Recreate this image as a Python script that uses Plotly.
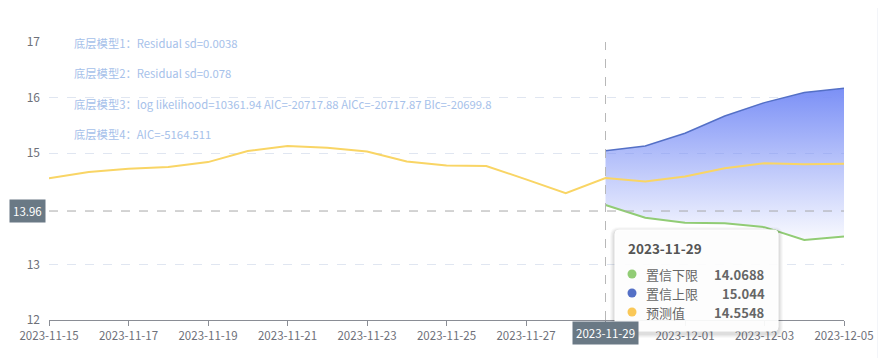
import plotly.graph_objects as go

# ---------------- data ----------------
dates = ["2023-11-15", "2023-11-16", "2023-11-17", "2023-11-18", "2023-11-19",
         "2023-11-20", "2023-11-21", "2023-11-22", "2023-11-23", "2023-11-24",
         "2023-11-25", "2023-11-26", "2023-11-27", "2023-11-28", "2023-11-29",
         "2023-11-30", "2023-12-01", "2023-12-02", "2023-12-03", "2023-12-04",
         "2023-12-05"]
forecast = [14.55, 14.66, 14.72, 14.75, 14.84, 15.04, 15.13, 15.10, 15.03, 14.85,
            14.78, 14.77, 14.53, 14.28, 14.5548, 14.49, 14.58, 14.73, 14.82, 14.80,
            14.81]
band_dates = ["2023-11-29", "2023-11-30", "2023-12-01", "2023-12-02", "2023-12-03",
              "2023-12-04", "2023-12-05"]
lower = [14.0688, 13.84, 13.75, 13.74, 13.67, 13.44, 13.50]
upper = [15.044, 15.13, 15.36, 15.67, 15.91, 16.09, 16.17]

tick_dates = ["2023-11-15", "2023-11-17", "2023-11-19", "2023-11-21", "2023-11-23",
              "2023-11-25", "2023-11-27", "2023-11-29", "2023-12-01", "2023-12-03",
              "2023-12-05"]
y_ticks = [12, 13, 15, 16, 17]
model_notes = [
    "底层模型1：Residual sd=0.0038",
    "底层模型2：Residual sd=0.078",
    "底层模型3：log likelihood=10361.94 AIC=-20717.88 AICc=-20717.87 BIc=-20699.8",
    "底层模型4：AIC=-5164.511",
]
pointer_date = "2023-11-29"
pointer_value = 13.96
tooltip_names = ["置信下限", "置信上限", "预测值"]
tooltip_values = ["14.0688", "15.044", "14.5548"]

GREEN = "#91cc75"
BLUE = "#5470c6"
YELLOW = "#fac858"
YELLOW_LINE = "#f9d565"
AXIS = "#6e7079"
FONT = "Noto Sans CJK SC, Noto Sans, sans-serif"

# page offset (browser body margin)
OX, OY = 8, 8
W, H = 878, 350
L, T = 41, 34
R = W - (844 - OX)
B = H - (320 - OY)
PW, PH = W - L - R, H - T - B


def px(x):
    """reference-screen x pixel -> paper coordinate"""
    return (x - OX - L) / PW


def py(y):
    """reference-screen y pixel -> paper coordinate"""
    return (H - B - (y - OY)) / PH


fig = go.Figure()

# band: lower then upper with gradient fill
fig.add_trace(go.Scatter(x=band_dates, y=lower, mode="lines",
                         line=dict(color=GREEN, width=0), hoverinfo="skip",
                         showlegend=False))
fig.add_trace(go.Scatter(x=band_dates, y=upper, mode="lines", fill="tonexty",
                         fillgradient=dict(type="vertical",
                                           colorscale=[[0, "rgba(122,143,246,0.0)"],
                                                       [1, "rgba(122,143,246,1)"]],
                                           start=13.3, stop=16.2),
                         line=dict(color=BLUE, width=0), hoverinfo="skip",
                         showlegend=False))
# lines
fig.add_trace(go.Scatter(x=band_dates, y=lower, mode="lines",
                         line=dict(color=GREEN, width=2), showlegend=False))
fig.add_trace(go.Scatter(x=band_dates, y=upper, mode="lines",
                         line=dict(color=BLUE, width=1.5), showlegend=False))
fig.add_trace(go.Scatter(x=dates, y=forecast, mode="lines",
                         line=dict(color=YELLOW_LINE, width=2), showlegend=False))

shapes = []
# white card on gray page
shapes.append(dict(type="rect", xref="paper", yref="paper", layer="below",
                   x0=px(0), x1=px(877), y0=py(360), y1=py(8),
                   fillcolor="white", line=dict(width=0)))
# crosshair
shapes.append(dict(type="line", xref="x", yref="paper", x0=pointer_date, x1=pointer_date,
                   y0=0, y1=1, line=dict(color="#b8b8b8", width=1, dash="dash")))
shapes.append(dict(type="line", xref="paper", yref="y", x0=0, x1=1,
                   y0=pointer_value, y1=pointer_value,
                   line=dict(color="#a8a8a8", width=1, dash="dash")))


def rrect(x0, y0, x1, y1, r):
    X0, X1 = px(x0), px(x1)
    Y0, Y1 = py(y0), py(y1)
    rx, ry = r / PW, r / PH
    return (f"M {X0+rx},{Y0} L {X1-rx},{Y0} Q {X1},{Y0} {X1},{Y0-ry} "
            f"L {X1},{Y1+ry} Q {X1},{Y1} {X1-rx},{Y1} L {X0+rx},{Y1} "
            f"Q {X0},{Y1} {X0},{Y1+ry} L {X0},{Y0-ry} Q {X0},{Y0} {X0+rx},{Y0} Z")


# tooltip box (rounded) with soft shadow
tx0, ty0, tx1, ty1 = 615, 230, 778, 331
for i, a in enumerate([0.025, 0.03, 0.035, 0.04]):
    g = 5 - i
    shapes.append(dict(type="path", xref="paper", yref="paper", layer="above",
                       path=rrect(tx0 - g, ty0 - g + 2, tx1 + g, ty1 + g + 2, 4 + g),
                       fillcolor=f"rgba(0,0,0,{a})", line=dict(width=0)))
shapes.append(dict(type="path", xref="paper", yref="paper", layer="above",
                   path=rrect(tx0, ty0, tx1, ty1, 4),
                   fillcolor="rgba(255,255,255,0.93)", line=dict(color="#ffffff", width=1)))

marker_colors = [GREEN, BLUE, YELLOW]
row_y = [274, 293, 312]
for c, yy in zip(marker_colors, row_y):
    shapes.append(dict(type="circle", xref="paper", yref="paper", layer="above",
                       x0=px(627.5), x1=px(636.5), y0=py(yy + 4.5), y1=py(yy - 4.5),
                       fillcolor=c, line=dict(width=0)))

annotations = []
for note, yy in zip(model_notes, [43, 73, 104, 134]):
    annotations.append(dict(xref="paper", yref="paper", x=px(72), y=py(yy),
                            xanchor="left", yanchor="middle", showarrow=False,
                            text=note, font=dict(family=FONT, size=11.3, color="#a6c1ea")))

# axis pointer labels
annotations.append(dict(xref="paper", yref="y", x=px(46), y=pointer_value,
                        xanchor="right", yanchor="middle", showarrow=False,
                        text=f"{pointer_value:.2f}", bgcolor="#6a7985", borderpad=3,
                        font=dict(family=FONT, size=11.5, color="white")))
annotations.append(dict(xref="x", yref="paper", x=pointer_date, y=py(333),
                        xanchor="center", yanchor="middle", showarrow=False,
                        text=pointer_date, bgcolor="#6a7985", borderpad=3,
                        font=dict(family=FONT, size=11.5, color="white")))

# tooltip text
annotations.append(dict(xref="paper", yref="paper", x=px(626), y=py(248),
                        xanchor="left", yanchor="middle", showarrow=False,
                        text=f"<b>{pointer_date}</b>",
                        font=dict(family=FONT, size=13.5, color="#555555")))
for name, val, yy in zip(tooltip_names, tooltip_values, row_y):
    annotations.append(dict(xref="paper", yref="paper", x=px(644), y=py(yy),
                            xanchor="left", yanchor="middle", showarrow=False,
                            text=name, font=dict(family=FONT, size=13, color="#666666")))
    annotations.append(dict(xref="paper", yref="paper", x=px(767), y=py(yy),
                            xanchor="right", yanchor="middle", showarrow=False,
                            text=f"<b>{val}</b>",
                            font=dict(family=FONT, size=13, color="#666666")))

# the pointer's date label replaces the plain tick label underneath it
tick_text = ["" if d == pointer_date else d for d in tick_dates]

fig.update_layout(
    width=W, height=H, autosize=False,
    margin=dict(l=L, r=R, t=T, b=B),
    paper_bgcolor="#f3f5f9", plot_bgcolor="rgba(0,0,0,0)",
    font=dict(family=FONT, size=12, color=AXIS),
    shapes=shapes, annotations=annotations,
    hovermode=False,
    xaxis=dict(type="date", range=["2023-11-15", "2023-12-05"],
               tickvals=tick_dates, ticktext=tick_text,
               showgrid=False, zeroline=False,
               showline=True, linecolor="#8a8d95", linewidth=1,
               ticks="outside", ticklen=5, tickcolor="#8a8d95",
               tickfont=dict(family=FONT, size=11.5, color=AXIS)),
    yaxis=dict(range=[12, 17], tickvals=y_ticks,
               showgrid=True, gridcolor="#e0e6f1", griddash="dash", gridwidth=1,
               zeroline=False, showline=False, ticks="", ticklabelstandoff=8,
               tickfont=dict(family=FONT, size=12, color=AXIS)),
)

fig.write_html("out.html")
